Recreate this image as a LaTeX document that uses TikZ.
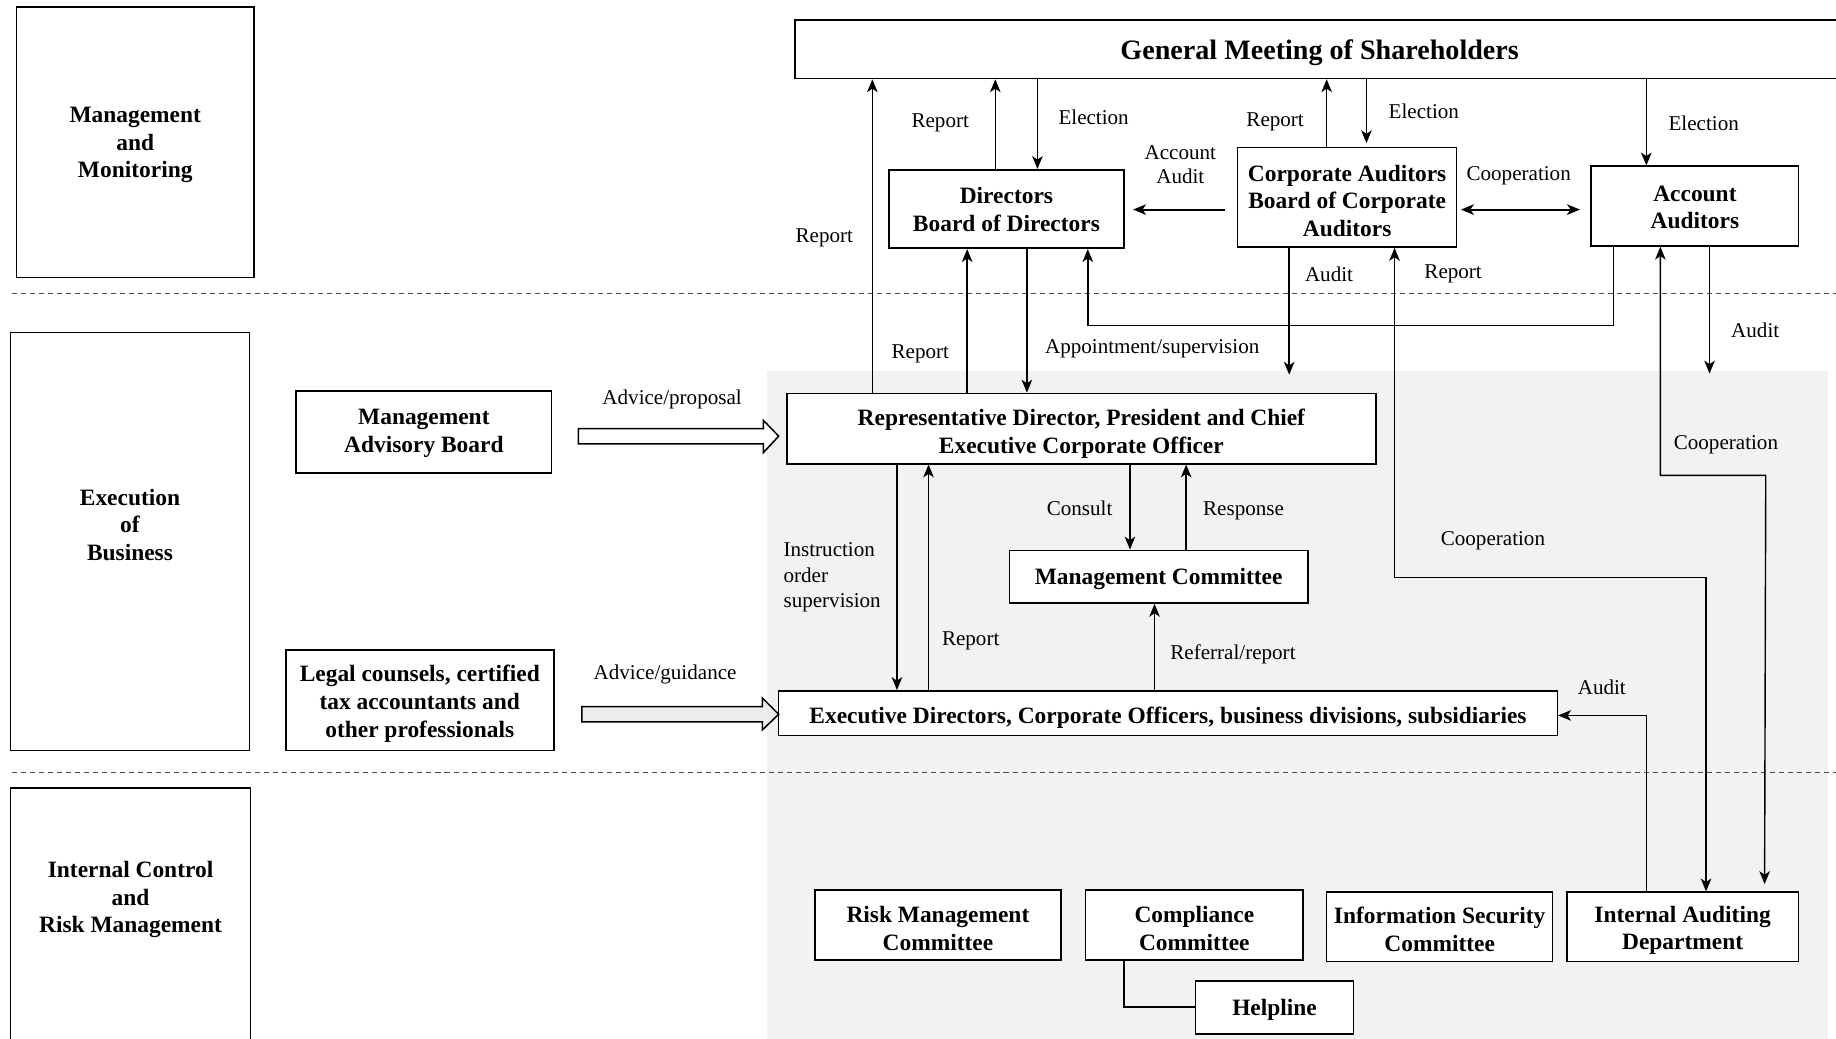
\documentclass[tikz,border=0pt]{standalone}
\usepackage{fontspec}
\setmainfont{Liberation Serif}
\usetikzlibrary{arrows.meta}
\definecolor{bggray}{HTML}{F2F2F2}
\definecolor{arrgray}{HTML}{ECECEC}
\newcommand\bx[6]{%
  \node[box, minimum width=#3pt, minimum height=#4pt] (#1) at (#2) {};
  \node[txt] (#1-t) at ([yshift=#5pt]#1.center) {#6};}
\begin{document}
\begin{tikzpicture}[x=1pt,y=-1pt,
 box/.style={draw, line width=1.4pt, fill=white, inner sep=0pt},
 txt/.style={align=center, inner sep=0pt, font=\bfseries\fontsize{20}{23.5}\selectfont},
 lbl/.style={inner sep=0pt, align=center, yshift=-2pt, font=\fontsize{18}{20.5}\selectfont},
 ln/.style={line width=1.2pt},
 arr/.style={line width=1.2pt, -{Stealth[length=11pt,width=9pt,inset=3pt]}},
 darr/.style={line width=1.2pt, {Stealth[length=11pt,width=9pt,inset=3pt]}-{Stealth[length=11pt,width=9pt,inset=3pt]}},
 thk/.style={line width=1.8pt},
 sep/.style={line width=1pt, draw=black!70, dash pattern=on 4.3pt off 3.4pt},
]
\useasboundingbox (0,0) rectangle (1568,887);
% background
\fill[bggray] (655,317) rectangle (1561,900);
\draw[sep] (10,251) -- (1568,251);
\draw[sep] (10,660) -- (1568,660);

% lane boxes
\bx{mm}{115.5,121.5}{203}{231}{-2.5}{Management\\and\\Monitoring}
\bx{eb}{111,462.5}{204}{357}{14.5}{Execution\\of\\Business}
\bx{ic}{111.5,786.5}{205}{227}{18}{Internal Control\\and\\Risk Management}

% main boxes
\node[box, minimum width=900pt, minimum height=50pt] (gm) at (1129,42) {};
\node[txt, font=\bfseries\fontsize{24}{28}\selectfont] (gm-t) at (1127,45) {General Meeting of Shareholders};
\bx{dir}{859.5,178.5}{201}{67}{-0.5}{Directors\\Board of Directors}
\bx{ca}{1150.5,168.5}{187}{85}{-3}{Corporate Auditors\\Board of Corporate\\Auditors}
\bx{aa}{1447.5,176}{177}{68}{-1}{Account\\Auditors}
\bx{rep}{923.5,366}{503}{60}{-4.5}{Representative Director, President and Chief\\Executive Corporate Officer}
\bx{mc}{989.5,492.5}{255}{45}{-2}{Management Committee}
\bx{ex}{997.5,609}{665}{38}{-4}{Executive Directors, Corporate Officers, business divisions, subsidiaries}
\bx{mab}{362,369}{218}{70}{-1}{Management\\Advisory Board}
\bx{legal}{358.5,598}{229}{86}{-3}{Legal counsels, certified\\tax accountants and\\other professionals}
\bx{risk}{801,790}{210}{60}{-3}{Risk Management\\Committee}
\bx{comp}{1020,790}{186}{60}{-3}{Compliance\\Committee}
\bx{info}{1229.5,791.5}{193}{59}{-2}{Information Security\\Committee}
\bx{ia}{1437,791.5}{198}{59}{-3}{Internal Auditing\\Department}
\bx{help}{1088.5,860.5}{135}{45}{-2}{Helpline}

% free ends
\coordinate (caw) at (1046,179);
\coordinate (auditCA) at (1101,320);
\coordinate (auditAA) at (1460,319);
\coordinate (iaTop) at (1507,755);

% connectors to/from GM
\draw[arr] (745,0 |- rep.north) -- (745,0 |- gm.south);
\draw[arr] (850,0 |- dir.north) -- (850,0 |- gm.south);
\draw[arr] (886,0 |- gm.south) -- (886,0 |- dir.north);
\draw[arr] (1133,0 |- ca.north) -- (1133,0 |- gm.south);
\draw[arr, shorten >=3pt] (1167,0 |- gm.south) -- (1167,0 |- ca.north);
\draw[arr] (1406,0 |- gm.south) -- (1406,0 |- aa.north);
\draw[arr, thk, shorten >=7pt] (caw) -- (dir.east |- caw);
\draw[darr, thk, shorten <=3pt, shorten >=9pt] (ca.east |- caw) -- (aa.west |- caw);

% directors <-> rep
\draw[arr] (826,0 |- rep.north) -- (826,0 |- dir.south);
\draw[arr] (877,0 |- dir.south) -- (877,0 |- rep.north);
\draw[arr] (1378,0 |- aa.south) -- (1378,278) -- (929,278) -- (929,0 |- dir.south);
\draw[arr] (1101,0 |- ca.south) -- (auditCA);
\draw[darr] (1191,0 |- ca.south) -- (1191,493) -- (1457,493) -- (1457,0 |- ia.north);
\draw[darr] (1418,0 |- aa.south) -- (1418,406) -- (1508,406) -- (iaTop);
\draw[arr] (1460,0 |- aa.south) -- (auditAA);
\draw[arr] (1406,0 |- ia.north) -- (1406,611) -- (ex.east |- 0,611);

% rep <-> exec, mc
\draw[arr] (766,0 |- rep.south) -- (766,0 |- ex.north);
\draw[arr] (793,0 |- ex.north) -- (793,0 |- rep.south);
\draw[arr] (965,0 |- rep.south) -- (965,0 |- mc.north);
\draw[arr] (1013,0 |- mc.north) -- (1013,0 |- rep.south);
\draw[arr] (986,0 |- ex.north) -- (986,0 |- mc.south);
\draw[ln] (960,0 |- comp.south) -- (960,860) -- (help.west |- 0,860);

% block arrows
\coordinate (ba1) at (494,372.5);
\draw[line width=1.3pt, fill=white] (ba1) ++(0,-6.5) -- ++(158,0) -- ++(0,-7) -- ++(13,13.5) -- ++(-13,14) -- ++(0,-7.5) -- ++(-158,0) -- cycle;
\coordinate (ba2) at (497,610);
\draw[line width=1.3pt, fill=arrgray] (ba2) ++(0,-6.5) -- ++(154,0) -- ++(0,-7.5) -- ++(14,14) -- ++(-14,13.5) -- ++(0,-7) -- ++(-154,0) -- cycle;

% labels
\node[lbl] (l1) at (704,201) {Report};
\node[lbl] (l2) at (803,103) {Report};
\node[lbl] (l3) at (934,98) {Election};
\node[lbl] (l4) at (1089,102) {Report};
\node[lbl] (l5) at (1216,93) {Election};
\node[lbl] (l6) at (1455,103) {Election};
\node[lbl] (l7) at (1008,139) {Account\\Audit};
\node[lbl] (l8) at (1297,148) {Cooperation};
\node[lbl] (l9) at (786,300) {Report};
\node[lbl] (l10) at (984,296) {Appointment/supervision};
\node[lbl] (l11) at (1135,232) {Audit};
\node[lbl] (l12) at (1241,232) {Report};
\node[lbl] (l13) at (1499,280) {Audit};
\node[lbl] (l14) at (1474,378) {Cooperation};
\node[lbl] (l15) at (1275,460) {Cooperation};
\node[lbl] (l16) at (574,339) {Advice/proposal};
\node[lbl] (l17) at (568,574) {Advice/guidance};
\node[lbl, align=left, anchor=west, font=\fontsize{18}{21.5}\selectfont] (l18) at (669,491) {Instruction\\order\\supervision};
\node[lbl] (l19) at (829,545) {Report};
\node[lbl] (l20) at (922,432) {Consult};
\node[lbl] (l21) at (1062,434) {Response};
\node[lbl] (l22) at (1053,557) {Referral/report};
\node[lbl] (l23) at (1368,585) {Audit};
\end{tikzpicture}
\end{document}
